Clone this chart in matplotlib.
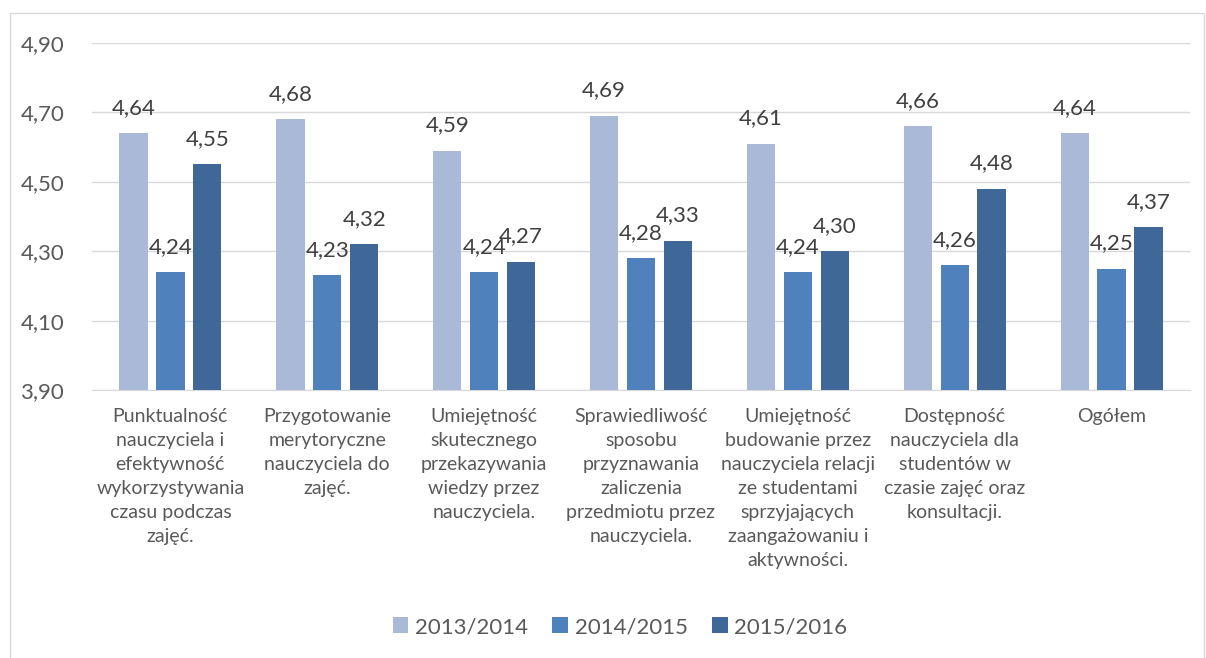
import numpy as np
import matplotlib.pyplot as plt
from matplotlib.patches import Rectangle

plt.rcParams['font.family'] = ['Lato', 'DejaVu Sans']

categories = [
    "Punktualność\nnauczyciela i\nefektywność\nwykorzystywania\nczasu podczas\nzajęć.",
    "Przygotowanie\nmerytoryczne\nnauczyciela do\nzajęć.",
    "Umiejętność\nskutecznego\nprzekazywania\nwiedzy przez\nnauczyciela.",
    "Sprawiedliwość\nsposobu\nprzyznawania\nzaliczenia\nprzedmiotu przez\nnauczyciela.",
    "Umiejętność\nbudowanie przez\nnauczyciela relacji\nze studentami\nsprzyjających\nzaangażowaniu i\naktywności.",
    "Dostępność\nnauczyciela dla\nstudentów w\nczasie zajęć oraz\nkonsultacji.",
    "Ogółem",
]
series_names = ["2013/2014", "2014/2015", "2015/2016"]
v_2013 = [4.64, 4.68, 4.59, 4.69, 4.61, 4.66, 4.64]
v_2014 = [4.24, 4.23, 4.24, 4.28, 4.24, 4.26, 4.25]
v_2015 = [4.55, 4.32, 4.27, 4.33, 4.30, 4.48, 4.37]
y_ticks = [3.90, 4.10, 4.30, 4.50, 4.70, 4.90]

colors = ["#AAB9D7", "#4F81BD", "#3F6899"]
txt = "#595959"

fig = plt.figure(figsize=(12.06, 6.58), dpi=100)
fig.patches.append(Rectangle((10 / 1206, -0.01), 1194 / 1206, 1 - 13 / 658 + 0.01,
                             transform=fig.transFigure, fill=False,
                             edgecolor="#D9D9D9", linewidth=1))
ax = fig.add_axes([92 / 1206, 1 - 390 / 658, (1190 - 92) / 1206, (390 - 43) / 658])

x = np.arange(len(categories))
w = 0.18
off = 0.235
for i, (vals, name) in enumerate(zip([v_2013, v_2014, v_2015], series_names)):
    bars = ax.bar(x + (i - 1) * off, vals, width=w, color=colors[i], label=name,
                  bottom=0, zorder=3)
    for b, v in zip(bars, vals):
        ax.annotate(f"{v:.2f}".replace(".", ","), (b.get_x() + b.get_width() / 2, v),
                    xytext=(0, 11), textcoords="offset points", ha="center", va="bottom",
                    fontsize=16, color="#404040")

ax.set_ylim(3.90, 4.90)
ax.set_xlim(-0.5, len(categories) - 0.5)
ax.set_yticks(y_ticks)
ax.set_yticklabels([f"{t:.2f}".replace(".", ",") for t in y_ticks], fontsize=16, color=txt)
ax.set_xticks(x)
ax.set_xticklabels(categories, fontsize=14, color=txt, linespacing=1.5, va="top")
ax.tick_params(axis="both", length=0)
ax.tick_params(axis="y", pad=20)
ax.tick_params(axis="x", pad=13)
ax.grid(axis="y", color="#D9D9D9", linewidth=1, zorder=0)
for s in ["top", "right", "left"]:
    ax.spines[s].set_visible(False)
ax.spines["bottom"].set_color("#D9D9D9")

leg = fig.legend(loc="center", bbox_to_anchor=(620 / 1206, 1 - 627 / 658), ncol=3,
                 frameon=False, fontsize=16, handlelength=0.7, handleheight=0.7,
                 handletextpad=0.3, columnspacing=1.1)
for t in leg.get_texts():
    t.set_color(txt)

fig.savefig("out.png", dpi=100)
